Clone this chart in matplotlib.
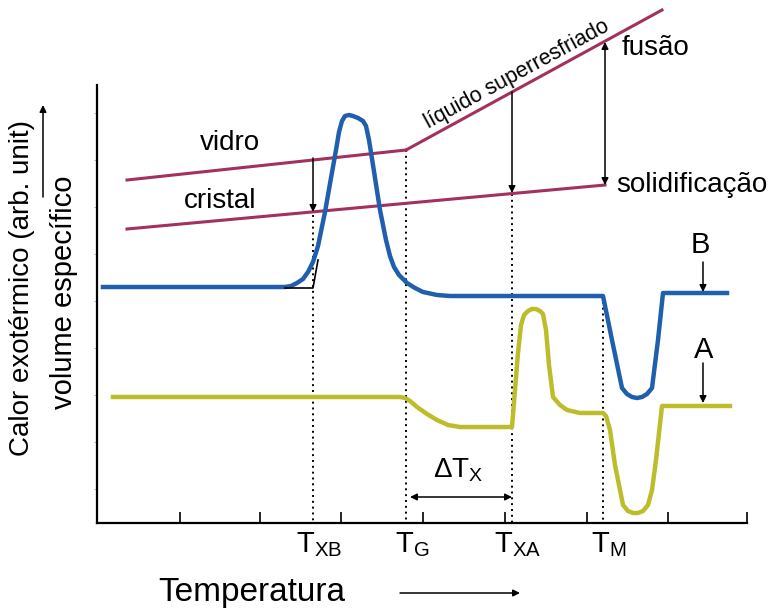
import numpy as np
import matplotlib
matplotlib.use('Agg')
from matplotlib import pyplot as plt

plt.rcParams['font.family'] = ['Liberation Sans', 'DejaVu Sans']
plt.rcParams['mathtext.default'] = 'regular'

# curve B (blue) - temperature / signal (signal grows downwards)
b_t = [103, 285, 291, 297, 303, 308, 313, 318, 325, 331, 336, 339, 342, 345, 349, 353,
       358, 363, 366, 369, 373, 380, 386, 390, 394, 399, 407, 415, 423, 437, 450, 603,
       612, 622, 627, 632, 637, 642, 647, 652, 658, 663, 727]
b_y = [287, 287, 286, 283, 279, 272, 262, 246, 212, 178, 150, 132, 121, 116, 115, 116,
       118, 121, 126, 140, 165, 210, 240, 256, 267, 275, 283, 288, 292, 295, 296, 296,
       340, 388, 394, 397, 398, 397, 394, 388, 340, 293, 293]

# curve A (yellow)
a_t = [113, 400, 405, 410, 417, 427, 437, 448, 460, 512, 515, 518, 521, 524, 528, 532,
       536, 540, 543, 546, 549, 553, 560, 567, 580, 603, 606, 610, 615, 623, 628, 633,
       638, 643, 648, 652, 656, 662, 730]
a_y = [397, 397, 398, 401, 407, 414, 420, 425, 427, 427, 390, 353, 325, 315, 311, 309,
       309, 311, 314, 330, 365, 397, 405, 410, 413, 413, 416, 430, 465, 505, 511, 513,
       513, 511, 505, 490, 460, 406, 406]

# volume lines
vidro_t = [127, 406]
vidro_y = [180, 150]
liquido_t = [406, 662]
liquido_y = [150, 10]
cristal_t = [127, 605]
cristal_y = [229, 185]

# marked temperatures
t_names = ['$T_{XB}$', '$T_{G}$', '$T_{XA}$', '$T_{M}$']
t_marks = [313, 406, 512, 603]
t_tops = [215, 150, 194, 296]

xticks = [180, 260, 341, 423, 505, 587, 668, 747]
yticks = [113, 160, 207, 254, 301, 348, 395, 442, 489]

blue = '#1f5fae'
yellow = '#bdbd2c'
magenta = '#a3305f'

fig = plt.figure(figsize=(7.8, 6.12), dpi=100)
ax = fig.add_axes([97/780, 1-523/612, (747-97)/780, (523-85)/612])
ax.set_xlim(97, 747)
ax.set_ylim(523, 85)
for s in ['top', 'right']:
    ax.spines[s].set_visible(False)
for s in ['left', 'bottom']:
    ax.spines[s].set_linewidth(1.6)
ax.set_xticks(xticks)
ax.set_xticklabels([])
ax.set_yticks(yticks)
ax.set_yticklabels([])
ax.tick_params(axis='x', direction='in', length=8, width=1.2)
ax.tick_params(axis='y', direction='out', length=2.5, width=0.5, colors='#999999')

# dotted guide lines
for t, top in zip(t_marks, t_tops):
    ax.plot([t, t], [top, 523], color='k', ls=(0, (1, 2)), lw=1.4, clip_on=False)

ax.plot(vidro_t, vidro_y, color=magenta, lw=2.2, clip_on=False)
ax.plot(liquido_t, liquido_y, color=magenta, lw=2.2, clip_on=False)
ax.plot(cristal_t, cristal_y, color=magenta, lw=2.2, clip_on=False)

ax.plot(b_t, b_y, color=blue, lw=3.2, solid_joinstyle='round')
ax.plot(a_t, a_y, color=yellow, lw=3.2, solid_joinstyle='round')

# onset construction for T_XB
ax.plot([285, 313, 318], [288, 288, 260], color='k', lw=1.2)

def arrow(x0, y0, x1, y1, both=False):
    ax.annotate('', xy=(x1, y1), xytext=(x0, y0), annotation_clip=False,
                arrowprops=dict(arrowstyle='<|-|>' if both else '-|>', color='k',
                                lw=1.1, mutation_scale=10, shrinkA=0, shrinkB=0))

arrow(313, 158, 313, 212)
arrow(512, 92, 512, 193)
arrow(605, 185, 605, 42, both=True)
arrow(703, 262, 703, 292)
arrow(703, 363, 703, 403)
arrow(410, 497, 512, 497, both=True)

# texts
ax.text(230, 143, 'vidro', fontsize=20, ha='center', va='center')
ax.text(220, 201, 'cristal', fontsize=20, ha='center', va='center')
ax.text(517, 74, 'líquido superresfriado', fontsize=15.5, ha='center', va='center',
        rotation=28.5, rotation_mode='anchor')
ax.text(622, 48, 'fusão', fontsize=20, ha='left', va='center')
ax.text(616, 185, 'solidificação', fontsize=20, ha='left', va='center')
ax.text(700, 245, 'B', fontsize=21, ha='center', va='center')
ax.text(704, 350, 'A', fontsize=21, ha='center', va='center')
ax.text(458, 470, r'$\Delta T_X$', fontsize=20, ha='center', va='center')

for name, t in zip(t_names, t_marks):
    ax.text(t + 6, 545, name, fontsize=21, ha='center', va='center')

ax.text(252, 593, 'Temperatura', fontsize=24, ha='center', va='center')
arrow(400, 593, 520, 593)

ax.text(22, 288, 'Calor exotérmico (arb. unit)', fontsize=20, rotation=90,
        ha='center', va='center')
ax.text(64, 292, 'volume específico', fontsize=21, rotation=90,
        ha='center', va='center')
arrow(43, 197, 43, 105)

fig.savefig('out.png', dpi=100)
